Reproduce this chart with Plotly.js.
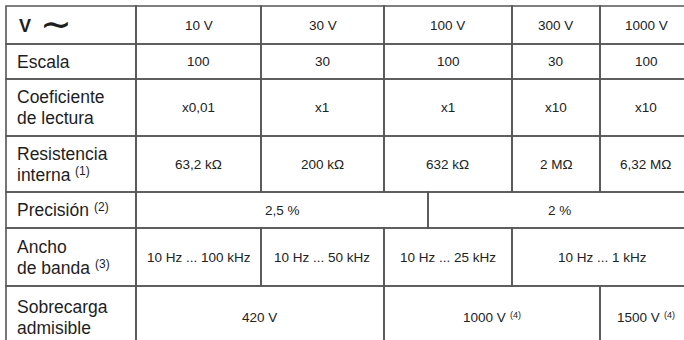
<!DOCTYPE html>
<html>
<head>
<meta charset="utf-8">
<script src="https://cdn.plot.ly/plotly-3.0.1.min.js"></script>
<style>html,body{margin:0;padding:0;background:#fff;}#chart{width:684px;height:340px;}</style>
</head>
<body>
<div id="chart"></div>
<script>
// ---- data ----  ( [text, superscript] pairs; superscript "" when none )
const rowLabels = [
  [["Escala", ""]],
  [["Coeficiente", ""], ["de lectura", ""]],
  [["Resistencia", ""], ["interna", "(1)"]],
  [["Precisión", "(2)"]],
  [["Ancho", ""], ["de banda", "(3)"]],
  [["Sobrecarga", ""], ["admisible", ""]]
];
const ranges = ["10 V", "30 V", "100 V", "300 V", "1000 V"];
const scales = ["100", "30", "100", "30", "100"];
const coefs = ["x0,01", "x1", "x1", "x10", "x10"];
const resistances = ["63,2 kΩ", "200 kΩ", "632 kΩ", "2 MΩ", "6,32 MΩ"];
const precision = ["2,5 %", "2 %"];
const bandwidth = ["10 Hz ... 100 kHz", "10 Hz ... 50 kHz", "10 Hz ... 25 kHz", "10 Hz ... 1 kHz"];
const bandwidthSpans = [1, 1, 1, 2];
const overload = ["420 V", "1000 V", "1500 V"];
const overloadNotes = ["", "(4)", "(4)"];
const overloadSpans = [2, 2, 1];

// ---- layout (grid geometry) ----
const colEdges = [6, 136, 261, 384, 512, 600, 692];
const rowEdges = [6, 44, 79, 136, 192, 228, 286, 349];
const precisionEdges = [136, 428, 692];

const lineColor = "#555555";
const lineW = 1.6;
const FAMILY = "Liberation Sans";
const labelFont = {family: FAMILY, size: 17.5, color: "#1e1e1e"};
const cellFont = {family: FAMILY, size: 13.5, color: "#222222"};
const lineGap = 21;

const ctx = document.createElement("canvas").getContext("2d");
function measure(t, size) { ctx.font = size + "px '" + FAMILY + "'"; return ctx.measureText(t).width; }

const shapes = [];
const annotations = [];

function box(x0, x1, y0, y1) {
  shapes.push({type: "rect", xref: "x", yref: "y", x0: x0, x1: x1, y0: y0, y1: y1,
    line: {color: lineColor, width: lineW}, fillcolor: "rgba(0,0,0,0)", layer: "above"});
}

// place text (with optional superscript) starting at left x, or centred on x
function addText(x, y, main, sup, font, centred) {
  const supSize = Math.round(font.size * 0.68);
  const wMain = measure(main, font.size);
  const gap = sup ? measure(" ", font.size) : 0;
  const wSup = sup ? measure(sup, supSize) : 0;
  const left = centred ? x - (wMain + gap + wSup) / 2 : x;
  annotations.push({xref: "x", yref: "y", x: left, y: y, text: main, showarrow: false,
    font: font, xanchor: "left", yanchor: "middle", borderpad: 0, xshift: -1});
  if (sup) {
    annotations.push({xref: "x", yref: "y", x: left + wMain + gap, y: y - font.size * 0.2, text: sup,
      showarrow: false, font: {family: font.family, size: supSize, color: font.color},
      xanchor: "left", yanchor: "middle", borderpad: 0, xshift: -1});
  }
}

function cell(x0, x1, y0, y1, text, sup) {
  box(x0, x1, y0, y1);
  addText((x0 + x1) / 2, (y0 + y1) / 2, text, sup, cellFont, true);
}

function labelCell(x0, x1, y0, y1, lines) {
  box(x0, x1, y0, y1);
  const mid = (y0 + y1) / 2;
  lines.forEach((ln, k) => {
    addText(x0 + 11, mid + (k - (lines.length - 1) / 2) * lineGap, ln[0], ln[1], labelFont, false);
  });
}

function spanRow(r, values, spans, notes) {
  let c = 1;
  values.forEach((v, i) => {
    const s = spans ? spans[i] : 1;
    cell(colEdges[c], colEdges[c + s], rowEdges[r], rowEdges[r + 1], v, notes ? notes[i] : "");
    c += s;
  });
}

// header row
box(colEdges[0], colEdges[1], rowEdges[0], rowEdges[1]);
annotations.push({xref: "x", yref: "y", x: colEdges[0] + 11, y: (rowEdges[0] + rowEdges[1]) / 2 + 1,
  text: "<b>V</b>", showarrow: false, xanchor: "left", yanchor: "middle",
  font: {family: FAMILY, size: 18, color: "#1e1e1e"}});
annotations.push({xref: "x", yref: "y", x: colEdges[0] + 50, y: (rowEdges[0] + rowEdges[1]) / 2 - 1,
  text: "∼", showarrow: false, xanchor: "center", yanchor: "middle",
  font: {family: "DejaVu Sans", size: 38, color: "#1e1e1e"}});
spanRow(0, ranges);

// label column for remaining rows
rowLabels.forEach((lines, i) => {
  labelCell(colEdges[0], colEdges[1], rowEdges[i + 1], rowEdges[i + 2], lines);
});

spanRow(1, scales);
spanRow(2, coefs);
spanRow(3, resistances);
precision.forEach((v, i) => {
  cell(precisionEdges[i], precisionEdges[i + 1], rowEdges[4], rowEdges[5], v, "");
});
spanRow(5, bandwidth, bandwidthSpans);
spanRow(6, overload, overloadSpans, overloadNotes);

const layout = {
  width: 684, height: 340,
  margin: {l: 0, r: 0, t: 0, b: 0},
  paper_bgcolor: "#ffffff", plot_bgcolor: "#ffffff",
  xaxis: {range: [0, 684], visible: false, fixedrange: true},
  yaxis: {range: [340, 0], visible: false, fixedrange: true},
  shapes: shapes, annotations: annotations, showlegend: false
};

Plotly.newPlot("chart", [{x: [], y: [], type: "scatter", mode: "markers", hoverinfo: "skip"}], layout, {displayModeBar: false, staticPlot: true});
</script>
</body>
</html>
